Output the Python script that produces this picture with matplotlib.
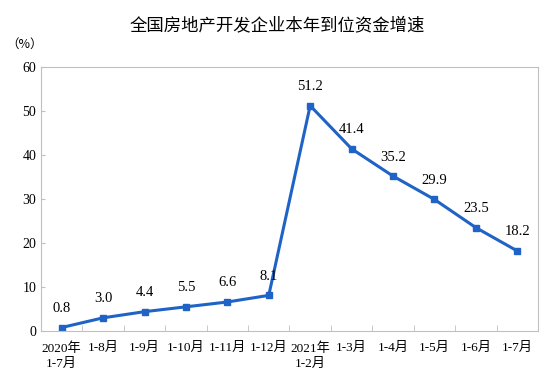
import matplotlib.pyplot as plt

plt.rcParams['font.family'] = ['Liberation Serif', 'Noto Sans CJK SC']

labels = ['2020年\n1-7月', '1-8月', '1-9月', '1-10月', '1-11月', '1-12月',
          '2021年\n1-2月', '1-3月', '1-4月', '1-5月', '1-6月', '1-7月']
values = [0.8, 3.0, 4.4, 5.5, 6.6, 8.1, 51.2, 41.4, 35.2, 29.9, 23.5, 18.2]

fig = plt.figure(figsize=(5.54, 3.89), dpi=100)
ax = fig.add_axes([0.074, 0.149, 0.897, 0.679])

x = list(range(len(values)))
ax.plot(x, values, color='#1f63c6', lw=2.2, marker='s', ms=4.5)

for xi, v in zip(x, values):
    ax.annotate(f'{v:.1f}', (xi, v), xytext=(0, 9), textcoords='offset points',
                ha='center', va='bottom', fontsize=10.5)

ax.set_xlim(-0.5, len(values) - 0.5)
ax.set_ylim(0, 60)
ax.set_yticks(range(0, 61, 10))
ax.set_xticks(x)
ax.set_xticklabels(labels, fontsize=9.5, linespacing=1.3)
ax.set_xticks([i + 0.5 for i in x[:-1]], minor=True)
ax.tick_params(axis='x', which='major', length=0, pad=8)
ax.tick_params(axis='x', which='minor', direction='in', length=4, color='#c0c0c0')
ax.tick_params(axis='y', direction='in', length=3, color='#c0c0c0', labelsize=10)
for s in ax.spines.values():
    s.set_color('#c0c0c0')

fig.text(0.5, 0.935, '全国房地产开发企业本年到位资金增速', ha='center', va='center',
         fontsize=12.5, family=['Noto Sans CJK SC'])
fig.text(0.045, 0.885, '（%）', ha='center', va='center', fontsize=9,
         family=['Noto Sans CJK SC'])

fig.savefig('out.png', dpi=100)
